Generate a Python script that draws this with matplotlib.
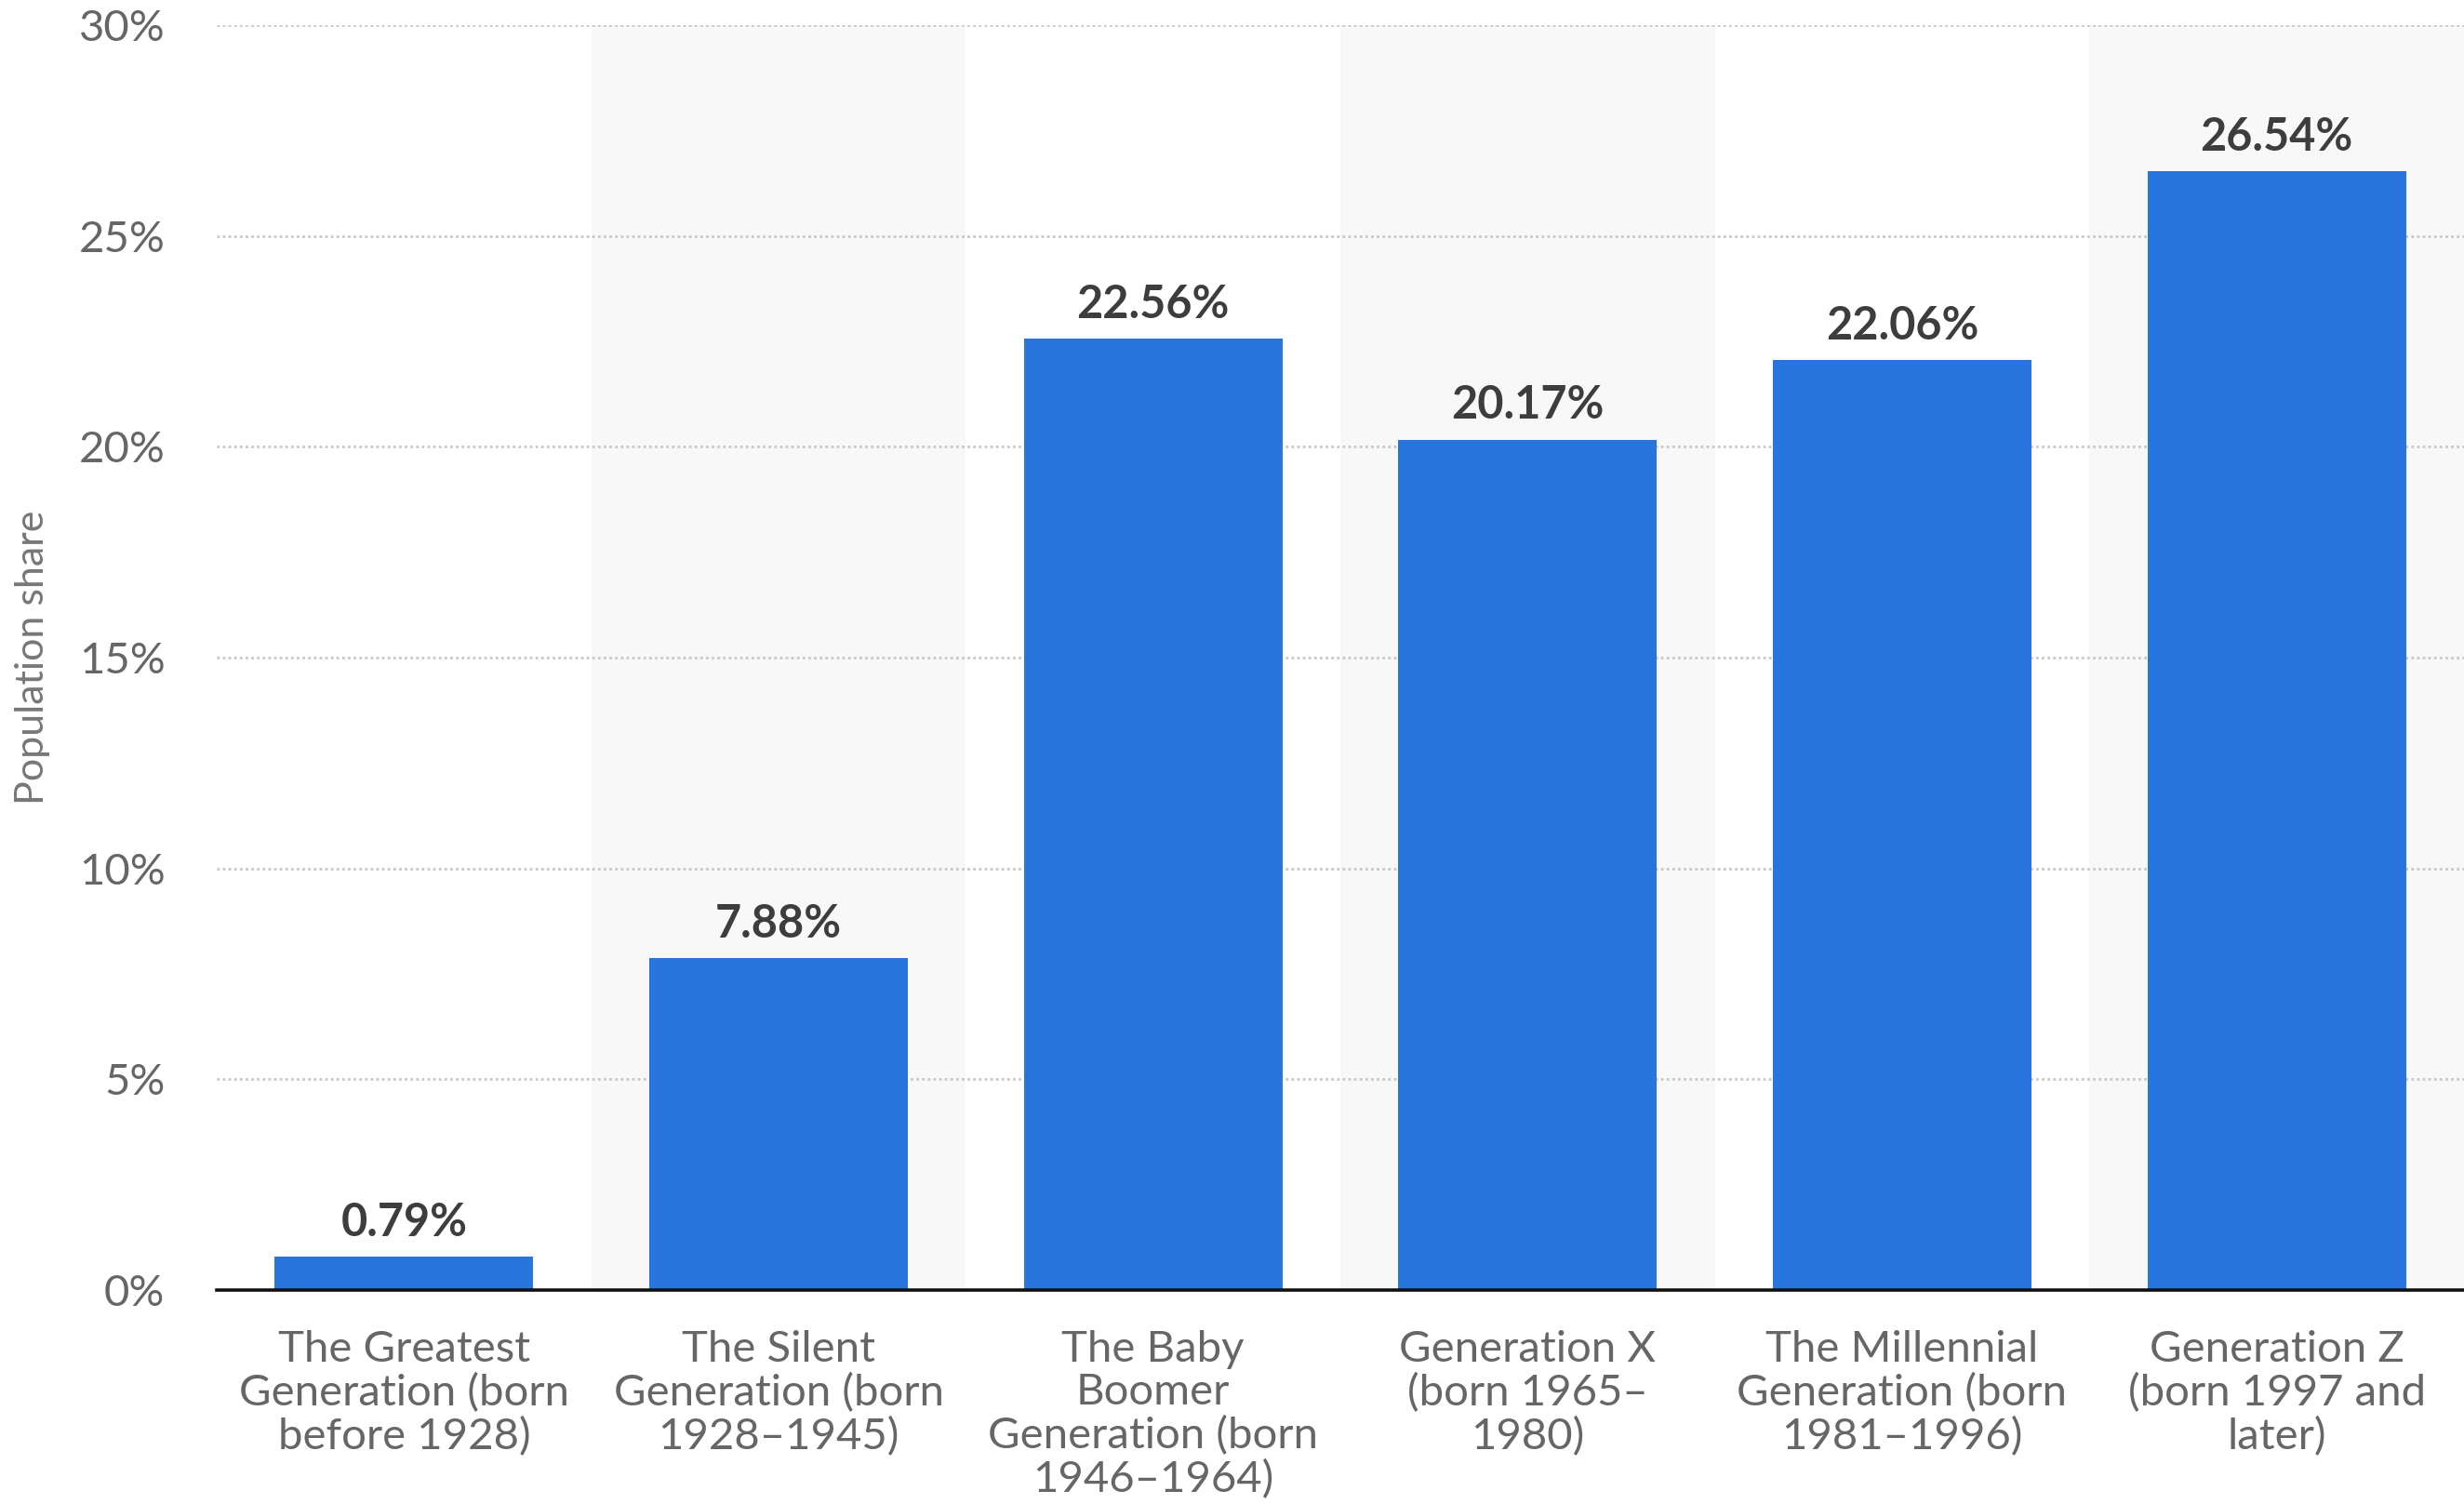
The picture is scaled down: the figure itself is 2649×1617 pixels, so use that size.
import matplotlib
matplotlib.use("Agg")
import matplotlib.pyplot as plt
from matplotlib.ticker import FuncFormatter

categories = [
    "The Greatest\nGeneration (born\nbefore 1928)",
    "The Silent\nGeneration (born\n1928–1945)",
    "The Baby\nBoomer\nGeneration (born\n1946–1964)",
    "Generation X\n(born 1965–\n1980)",
    "The Millennial\nGeneration (born\n1981–1996)",
    "Generation Z\n(born 1997 and\nlater)",
]
values = [0.79, 7.88, 22.56, 20.17, 22.06, 26.54]
value_labels = ["0.79%", "7.88%", "22.56%", "20.17%", "22.06%", "26.54%"]
y_ticks = [0, 5, 10, 15, 20, 25, 30]

plt.rcParams['font.family'] = ['Lato', 'DejaVu Sans']

W, H = 2649, 1617
fig = plt.figure(figsize=(W / 100, H / 100), dpi=100)
ax = fig.add_axes([233 / W, (H - 1387) / H, (W - 233) / W, (1387 - 27) / H])

x = list(range(len(categories)))

# alternating background bands
for i in x:
    if i % 2 == 1:
        ax.axvspan(i - 0.5, i + 0.5, color="#f8f8f8", zorder=0, lw=0)

ax.bar(x, values, width=0.69, color="#2876dd", zorder=3)

for xi, v, lab in zip(x, values, value_labels):
    ax.annotate(lab, (xi, v), xytext=(0, 16), textcoords="offset points",
                ha="center", va="baseline", fontsize=35, fontweight="bold",
                color="#3d3d3d", zorder=4)

ax.set_xlim(-0.5, len(categories) - 0.5)
ax.set_ylim(0, 30)
ax.set_yticks(y_ticks)
ax.yaxis.set_major_formatter(FuncFormatter(lambda v, p: f"{int(v)}%"))
ax.set_xticks(x)
ax.set_xticklabels(categories, fontsize=34, color="#666666", linespacing=1.12)

ax.tick_params(axis="y", length=0, pad=40, labelsize=34, labelcolor="#666666")
ax.tick_params(axis="x", length=0, pad=31)

ax.grid(axis="y", color="#c8c8c8", linestyle=(0, (1, 1.2)), linewidth=2.0, zorder=1)
ax.set_axisbelow(False)
for s in ["top", "right", "left"]:
    ax.spines[s].set_visible(False)
ax.spines["bottom"].set_color("#111111")
ax.spines["bottom"].set_linewidth(2.6)
ax.spines["bottom"].set_zorder(5)

ax.set_ylabel("Population share", fontsize=31, color="#777777")
ax.yaxis.set_label_coords(-0.074, 0.5)

for gl in ax.get_ygridlines():
    gl.set_zorder(1)

fig.savefig("out.png", dpi=100, facecolor="white")
